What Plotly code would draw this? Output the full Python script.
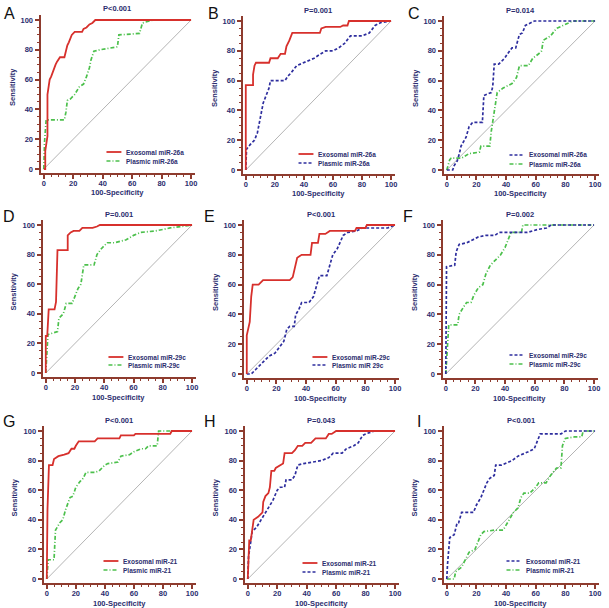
import plotly.graph_objects as go

# ---------------- DATA (100-Specificity, Sensitivity) ----------------
A_exo_x = [0, 1, 1, 2, 2.5, 2.5, 3, 4, 5, 6, 7, 8, 9, 11, 14, 15, 16, 17, 18, 19, 21, 26, 27, 29, 31, 33, 35, 100]
A_exo_y = [0, 0, 12, 20, 22, 50, 55, 60, 62, 65, 68, 70, 72, 75, 75, 80, 83, 85, 88, 90, 92, 92, 94, 95, 97, 98, 100, 100]
A_pla_x = [0, 0.5, 1.6, 14, 15, 16, 18, 21, 24, 27, 29, 31, 32, 34, 38, 45, 50, 51, 65, 67, 74, 100]
A_pla_y = [0, 18, 33, 33, 38, 46, 47, 50, 55, 57, 62, 68, 73, 79, 80, 81, 82, 90, 91, 98, 100, 100]

B_exo_x = [0, 0, 5, 5, 6, 7, 16, 17, 22, 24, 27, 28, 30, 32, 51, 52, 55, 65, 67, 70, 71, 100]
B_exo_y = [0, 57, 57, 64, 70, 72, 72, 75, 75, 78, 78, 83, 87, 92, 92, 95, 96, 96, 97, 97, 100, 100]
B_pla_x = [0, 0.5, 3, 6, 8, 10, 12, 14, 16, 17, 27, 29, 31, 35, 40, 47, 50, 55, 60, 64, 68, 72, 80, 85, 89, 93, 100]
B_pla_y = [0, 14, 17, 20, 25, 35, 45, 50, 55, 60, 60, 63, 65, 70, 72, 75, 77, 80, 80, 82, 85, 90, 90, 92, 97, 99, 100]

C_exo_x = [0, 4, 5, 7, 8.5, 9.6, 13, 15, 17.5, 24, 25, 30, 31, 32, 35, 39, 41, 44, 46.5, 49, 51, 53, 57, 59, 100]
C_exo_y = [0, 0, 3, 6, 11, 16, 22, 29, 32, 32, 50, 52, 56, 71, 71, 75, 78, 82, 82, 91, 92, 97, 99, 100, 100]
C_pla_x = [0, 2, 3, 10, 15, 22, 23, 29, 30, 32, 33, 34, 38, 44, 47, 49, 55, 58, 62, 64, 65, 70, 74, 80, 85, 100]
C_pla_y = [0, 7, 8, 8, 11, 12, 16, 16, 26, 38, 45, 52, 55, 58, 62, 70, 70, 75, 78, 80, 87, 90, 95, 98, 100, 100]

D_exo_x = [0, 0, 1, 2, 6, 7, 8, 15, 15, 17, 19, 23, 25, 32, 35, 37, 100]
D_exo_y = [0, 25, 25, 43, 43, 48, 83, 83, 93, 95, 96, 96, 98, 98, 99, 100, 100]
D_pla_x = [0, 1.5, 8, 9, 12, 14, 18, 20, 22, 24, 26, 33, 35, 38, 42, 47, 55, 60, 65, 75, 85, 100]
D_pla_y = [0, 26, 28, 37, 40, 47, 47, 52, 57, 60, 73, 73, 80, 84, 88, 88, 90, 93, 95, 96, 98, 100]

E_exo_x = [0, 0, 2, 3, 4, 8, 11, 29, 31, 33, 34, 37, 43, 44, 48, 49, 53, 56, 73, 74, 80, 81, 100]
E_exo_y = [0, 26, 35, 52, 60, 60, 63, 63, 65, 73, 78, 80, 80, 88, 88, 94, 94, 96, 96, 98, 98, 100, 100]
E_pla_x = [0, 3, 6, 8, 11, 15, 19, 22, 25, 27, 29, 32, 33, 35, 37, 42, 45, 49, 54, 58, 61, 65, 68, 74, 78, 95, 100]
E_pla_y = [0, 0, 3, 5, 8, 12, 14, 18, 22, 30, 32, 32, 40, 43, 48, 48, 52, 66, 66, 80, 84, 93, 95, 96, 98, 98, 100]

F_exo_x = [0, 0.5, 6, 7, 9, 14, 18, 22, 27, 33, 36, 55, 62, 68, 71, 100]
F_exo_y = [0, 72, 73, 82, 87, 88, 90, 92, 93, 93, 95, 95, 97, 98, 100, 100]
F_pla_x = [0, 2, 8, 9, 12, 14, 17, 19, 22, 25, 27, 30, 34, 37, 40, 44, 51, 52, 100]
F_pla_y = [0, 33, 33, 40, 45, 48, 48, 53, 58, 60, 67, 73, 77, 80, 85, 95, 95, 100, 100]

G_exo_x = [0, 0.5, 1.5, 4, 5, 8, 12, 15, 17, 19, 20, 22, 33, 35, 50, 51, 60, 61, 85, 86, 100]
G_exo_y = [0, 47, 77, 77, 81, 83, 84, 85, 88, 88, 90, 93, 93, 95, 95, 97, 97, 98, 98, 100, 100]
G_pla_x = [0, 1, 5, 6, 9, 11, 13, 16, 18, 20, 23, 25, 27, 33, 36, 40, 42, 49, 51, 57, 60, 65, 68, 70, 76, 77, 100]
G_pla_y = [0, 13, 13, 33, 38, 40, 47, 55, 56, 62, 66, 68, 72, 72, 73, 77, 78, 79, 83, 84, 86, 88, 88, 90, 90, 100, 100]

H_exo_x = [0, 0.5, 1, 2, 3, 4, 7, 10, 10.5, 12, 14, 15, 16, 18, 19, 22, 24, 25, 30, 32, 34, 37, 39, 43, 46, 53, 55, 57, 60, 100]
H_exo_y = [0, 20, 26, 26, 33, 40, 42, 45, 52, 56, 58, 62, 73, 73, 75, 77, 78, 85, 85, 87, 90, 90, 92, 92, 95, 95, 98, 98, 100, 100]
H_pla_x = [0, 0.5, 2, 3, 6, 9, 12, 15, 17, 20, 22, 25, 26, 30, 32, 34, 38, 50, 55, 58, 64, 67, 72, 75, 78, 80, 86, 100]
H_pla_y = [0, 15, 25, 32, 35, 40, 45, 50, 53, 60, 62, 62, 67, 67, 70, 77, 78, 80, 82, 85, 85, 88, 90, 92, 97, 98, 100, 100]

I_exo_x = [0, 0.5, 2, 5, 7, 8, 10, 18, 20, 23, 25, 27, 29, 32, 33, 37, 44, 48, 55, 59, 61, 63, 77, 80, 100]
I_exo_y = [0, 10, 28, 30, 38, 38, 45, 45, 50, 55, 60, 65, 68, 70, 77, 77, 80, 83, 86, 88, 93, 98, 98, 100, 100]
I_pla_x = [0, 5, 6, 10, 12, 15, 19, 21, 23, 25, 32, 38, 42, 45, 48, 50, 52, 56, 60, 62, 67, 70, 74, 77, 78, 80, 86, 91, 92, 100]
I_pla_y = [0, 0, 5, 8, 12, 18, 20, 25, 30, 32, 33, 33, 40, 45, 48, 55, 58, 58, 62, 65, 65, 70, 75, 75, 90, 95, 96, 96, 100, 100]

DIAG = [0, 100]
TICKS = [0, 20, 40, 60, 80, 100]

PANEL_LETTERS = ["A", "B", "C", "D", "E", "F", "G", "H", "I"]
P_TEXTS = ["P<0.001", "P=0.001", "P=0.014", "P=0.001", "P<0.001", "P=0.002", "P<0.001", "P=0.043", "P<0.001"]
EXO_NAMES = ["Exosomal miR-26a"] * 3 + ["Exosomal miR-29c"] * 3 + ["Exosomal miR-21"] * 3
PLA_NAMES = ["Plasmic miR-26a"] * 3 + ["Plasmic miR-29c", "Plasmic miR 29c", "Plasmic miR-29c"] + ["Plasmic miR-21"] * 3
X_TITLE = "100-Specificity"
Y_TITLE = "Sensitivity"

CURVES = [
    (A_exo_x, A_exo_y, A_pla_x, A_pla_y),
    (B_exo_x, B_exo_y, B_pla_x, B_pla_y),
    (C_exo_x, C_exo_y, C_pla_x, C_pla_y),
    (D_exo_x, D_exo_y, D_pla_x, D_pla_y),
    (E_exo_x, E_exo_y, E_pla_x, E_pla_y),
    (F_exo_x, F_exo_y, F_pla_x, F_pla_y),
    (G_exo_x, G_exo_y, G_pla_x, G_pla_y),
    (H_exo_x, H_exo_y, H_pla_x, H_pla_y),
    (I_exo_x, I_exo_y, I_pla_x, I_pla_y),
]

# ---------------- STYLE / LAYOUT ----------------
W, H = 609, 608
RED = dict(color="#D7302C", width=1.8, dash="solid")
GREEN = dict(color="#4CC04C", width=1.7, dash="4px,2px,1px,2px")
BLUE = dict(color="#2E2E9E", width=1.7, dash="3px,2px")
# styles per panel: (exosomal, plasmic)
STYLES = [(RED, GREEN), (RED, BLUE), (BLUE, GREEN)] * 3

AXIS_COL = "#8E3B2E"
LAB_COL = "#2B2D6E"
FONT = "Arial, Liberation Sans, sans-serif"

# pixel geometry per panel: x of 0, x of 100, y of 0, y of 100
GEOM = [
    (44, 192, 169, 20), (247, 393, 170, 21), (449, 598, 170, 21),
    (46, 193, 373, 225), (248, 397, 374, 225), (448, 597, 374, 225),
    (47, 193, 579, 431), (249, 397, 579, 431), (449, 598, 579, 431),
]
LETTER_POS = [(10, 14), (215, 14), (416, 14), (9, 216), (211, 216), (410, 216), (9, 421), (211, 421), (421, 421)]
# legend: text start x, first row y, second row y (px)
LEG_POS = [(125, 152, 161), (318, 154, 163), (530, 155, 164),
           (127, 357, 365), (332, 357, 365), (530, 355, 364),
           (122, 561, 570), (322, 563, 572), (527, 561, 570)]
XR = [-2.2, 102.5]
YR = [-3, 103.5]


def px(xp):
    return xp / W


def py(yp):
    return 1 - yp / H


fig = go.Figure()
annotations = []
shapes = []

for i in range(9):
    n = "" if i == 0 else str(i + 1)
    xa, ya = "x" + n, "y" + n
    x0, x100, y0, y100 = GEOM[i]
    sx = (x100 - x0) / 100.0
    sy = (y0 - y100) / 100.0
    dom_x = [px(x0 + XR[0] * sx), px(x0 + XR[1] * sx)]
    dom_y = [py(y0 - YR[0] * sy), py(y0 - YR[1] * sy)]

    ex, ey, plx, ply = CURVES[i]
    st_e, st_p = STYLES[i]
    fig.add_trace(go.Scatter(x=DIAG, y=DIAG, mode="lines", xaxis=xa, yaxis=ya,
                             line=dict(color="#B4B4B4", width=1), showlegend=False, hoverinfo="skip"))
    fig.add_trace(go.Scatter(x=plx, y=ply, mode="lines", xaxis=xa, yaxis=ya, name=PLA_NAMES[i],
                             line=st_p, showlegend=False))
    fig.add_trace(go.Scatter(x=ex, y=ey, mode="lines", xaxis=xa, yaxis=ya, name=EXO_NAMES[i],
                             line=st_e, showlegend=False))

    common = dict(showline=True, linecolor=AXIS_COL, linewidth=2, ticks="outside",
                  tickcolor=AXIS_COL, ticklen=4, tickwidth=1.5, tickvals=TICKS,
                  showgrid=False, zeroline=False, fixedrange=True,
                  tickfont=dict(family=FONT, size=7.5, color=LAB_COL, weight="bold"),
                  minor=dict(ticks="outside", ticklen=2, tickwidth=1, tickcolor=AXIS_COL,
                             dtick=5, tick0=0, showgrid=False))
    fig.layout["xaxis" + n] = dict(domain=dom_x, range=XR, anchor=ya, ticklabelstandoff=-2, **common)
    fig.layout["yaxis" + n] = dict(domain=dom_y, range=YR, anchor=xa, **common)

    # panel title
    annotations.append(dict(text=P_TEXTS[i], xref=xa, x=50, yref="paper", y=py(y100 - 11),
                            showarrow=False, xanchor="center", yanchor="middle",
                            font=dict(family=FONT, size=7.5, color=LAB_COL, weight="bold")))
    # axis titles
    annotations.append(dict(text=X_TITLE, xref=xa, x=50, yref="paper", y=py(y0 + 24),
                            showarrow=False, xanchor="center", yanchor="middle",
                            font=dict(family=FONT, size=7.5, color=LAB_COL, weight="bold")))
    annotations.append(dict(text=Y_TITLE, xref="paper", x=px(x0 - 32), yref=ya, y=55,
                            showarrow=False, xanchor="center", yanchor="middle", textangle=-90,
                            font=dict(family=FONT, size=7.5, color=LAB_COL, weight="bold")))
    # panel letter
    lx, ly = LETTER_POS[i]
    annotations.append(dict(text=PANEL_LETTERS[i], xref="paper", x=px(lx), yref="paper", y=py(ly),
                            showarrow=False, xanchor="center", yanchor="middle",
                            font=dict(family=FONT, size=16, color="#111111")))
    # legend
    tx, r1, r2 = LEG_POS[i]
    for (name, st, ry) in ((EXO_NAMES[i], st_e, r1), (PLA_NAMES[i], st_p, r2)):
        shapes.append(dict(type="line", xref="paper", yref="paper",
                           x0=px(tx - 18), x1=px(tx - 3), y0=py(ry), y1=py(ry),
                           line=dict(color=st["color"], width=st["width"], dash=st["dash"])))
        annotations.append(dict(text=name, xref="paper", x=px(tx), yref="paper", y=py(ry),
                                showarrow=False, xanchor="left", yanchor="middle",
                                font=dict(family=FONT, size=6.5, color=LAB_COL, weight="bold")))

fig.update_layout(width=W, height=H, margin=dict(l=0, r=0, t=0, b=0),
                  paper_bgcolor="white", plot_bgcolor="white", showlegend=False,
                  annotations=annotations, shapes=shapes)

fig.write_html("out.html", config={"displayModeBar": False},
               post_script="document.body.style.margin='0';document.body.style.overflow='hidden';")
